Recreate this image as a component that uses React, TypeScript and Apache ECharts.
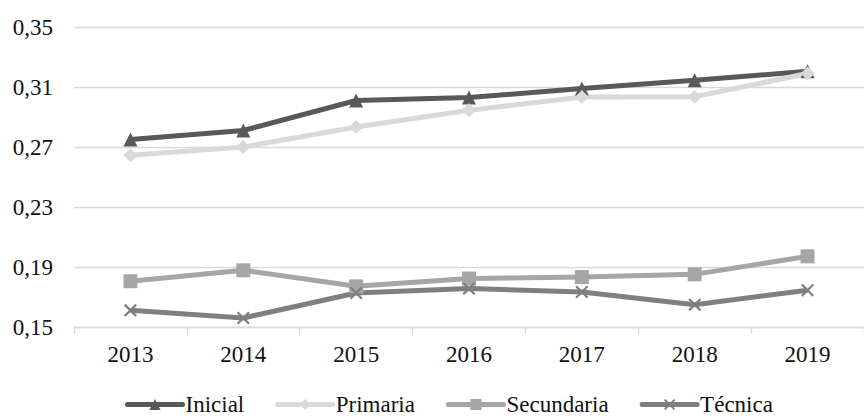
import React, { useEffect, useRef } from "react";
import * as echarts from "echarts";

const years = ["2013", "2014", "2015", "2016", "2017", "2018", "2019"];
const inicial = [0.275, 0.281, 0.301, 0.303, 0.309, 0.3145, 0.3205];
const primaria = [0.2645, 0.27, 0.2833, 0.2945, 0.3033, 0.3035, 0.319];
const secundaria = [0.1805, 0.1878, 0.1771, 0.1823, 0.1833, 0.1851, 0.1971];
const tecnica = [0.1611, 0.156, 0.1727, 0.1756, 0.1733, 0.1649, 0.1745];

const yTicks = { min: 0.15, max: 0.35, step: 0.04 };

const FONT = "'Liberation Serif', 'Times New Roman', serif";
const TEXT = "#111111";
const crossSymbol =
  "path://M0,1.2 L1.2,0 L5,3.8 L8.8,0 L10,1.2 L6.2,5 L10,8.8 L8.8,10 L5,6.2 L1.2,10 L0,8.8 L3.8,5 Z";

export default function App() {
  const ref = useRef<HTMLDivElement>(null);

  useEffect(() => {
    if (!ref.current) return;
    const chart = echarts.init(ref.current, null, { renderer: "svg" });

    const mk = (
      name: string,
      data: number[],
      color: string,
      symbol: string,
      symbolSize: number
    ) => ({
      name,
      type: "line",
      data,
      symbol,
      symbolSize,
      showAllSymbol: true,
      itemStyle: { color },
      lineStyle: { color, width: 5, join: "round" },
      emphasis: { disabled: true },
    });

    chart.setOption({
      animation: false,
      textStyle: { fontFamily: FONT },
      grid: { left: 74, top: 27, width: 802, height: 300 },
      xAxis: {
        type: "category",
        data: years,
        boundaryGap: true,
        axisLine: { lineStyle: { color: "#d9d9d9", width: 1.3 } },
        axisTick: { show: true, length: 7, lineStyle: { color: "#d9d9d9", width: 1.3 } },
        axisLabel: { color: TEXT, fontSize: 23, fontFamily: FONT, margin: 16 },
      },
      yAxis: {
        type: "value",
        min: yTicks.min,
        max: yTicks.max,
        interval: yTicks.step,
        axisLine: { show: false },
        axisTick: { show: false },
        splitLine: { lineStyle: { color: "#d9d9d9", width: 1.3 } },
        axisLabel: {
          color: TEXT,
          fontSize: 23,
          fontFamily: FONT,
          margin: 21,
          formatter: (v: number) => v.toFixed(2).replace(".", ","),
        },
      },
      legend: {
        top: 393,
        left: 125,
        padding: 0,
        itemWidth: 55,
        itemHeight: 14,
        itemGap: 31,
        lineStyle: { width: 5, cap: "round" },
        textStyle: { color: TEXT, fontSize: 23, fontFamily: FONT, padding: [0, 0, 0, -2] },
        data: ["Inicial", "Primaria", "Secundaria", "Técnica"],
      },
      series: [
        mk("Inicial", inicial, "#595959", "triangle", 14),
        mk("Primaria", primaria, "#d9d9d9", "diamond", 14),
        mk("Secundaria", secundaria, "#a6a6a6", "rect", 14),
        mk("Técnica", tecnica, "#7f7f7f", crossSymbol, 13),
      ],
    });

    return () => chart.dispose();
  }, []);

  return (
    <div
      ref={ref}
      style={{ position: "fixed", left: 0, top: 0, width: 864, height: 416, background: "#fff" }}
    />
  );
}
